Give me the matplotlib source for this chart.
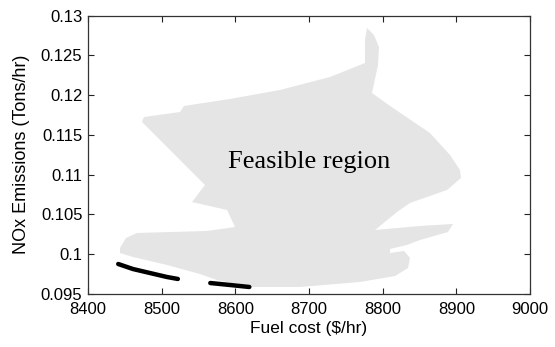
import matplotlib
matplotlib.use("Agg")
import matplotlib.pyplot as plt

# Feasible region outline
region_cost = [8473.3, 8476.0, 8524.9, 8530.3, 8592.8, 8660.6, 8728.5, 8776.0, 8776.0, 8778.7,
               8788.2, 8795.0, 8793.7, 8785.5, 8810.0, 8864.3, 8891.4, 8905.0, 8906.3, 8887.3,
               8837.1, 8819.5, 8789.6, 8850.7, 8895.5, 8888.7, 8850.7, 8833.0, 8810.0, 8810.0,
               8829.0, 8837.1, 8834.4, 8816.8, 8769.2, 8687.8, 8619.9, 8575.1, 8552.0, 8507.2,
               8461.1, 8443.4, 8443.4, 8451.6, 8466.5, 8561.5, 8599.6, 8588.7, 8541.2, 8558.8,
               8515.4]
region_nox = [0.11662, 0.11724, 0.11787, 0.11863, 0.11951, 0.12064, 0.12227, 0.12403, 0.12692, 0.12843,
              0.12755, 0.12604, 0.12378, 0.12026, 0.11863, 0.11523, 0.11247, 0.11058, 0.10958, 0.10807,
              0.10644, 0.10531, 0.10304, 0.10355, 0.10380, 0.10279, 0.10179, 0.10116, 0.10066, 0.10015,
              0.10041, 0.09953, 0.09827, 0.09726, 0.09651, 0.09588, 0.09588, 0.09676, 0.09751, 0.09865,
              0.09965, 0.10015, 0.10078, 0.10204, 0.10267, 0.10292, 0.10342, 0.10556, 0.10656, 0.10870,
              0.11272]

# Pareto front segments
front1_cost = [8441, 8461, 8484, 8507, 8522]
front1_nox = [0.09877, 0.09814, 0.09764, 0.09714, 0.09689]
front2_cost = [8566, 8593, 8619]
front2_nox = [0.09638, 0.09613, 0.09588]

xticks = [8400, 8500, 8600, 8700, 8800, 8900, 9000]
yticks = [0.095, 0.1, 0.105, 0.11, 0.115, 0.12, 0.125, 0.13]
ytick_labels = ["0.095", "0.1", "0.105", "0.11", "0.115", "0.12", "0.125", "0.13"]

plt.rcParams['font.family'] = ['Liberation Sans', 'DejaVu Sans']

fig = plt.figure(figsize=(5.55, 3.47), dpi=100)
ax = fig.add_axes([88/555, 1-294/347, (530-88)/555, (294-15.5)/347])

ax.fill(region_cost, region_nox, color='#e5e5e5', linewidth=0, zorder=1)
ax.plot(front1_cost, front1_nox, color='black', linewidth=3.2, solid_capstyle='round', zorder=3)
ax.plot(front2_cost, front2_nox, color='black', linewidth=3.2, solid_capstyle='round', zorder=3)

ax.text(8590, 0.11084, "Feasible region", family=['Liberation Serif', 'DejaVu Serif'],
        fontsize=19, ha='left', va='baseline', zorder=4)

ax.set_xlim(8400, 9000)
ax.set_ylim(0.095, 0.13)
ax.set_xticks(xticks)
ax.set_xticklabels([str(t) for t in xticks])
ax.set_yticks(yticks)
ax.set_yticklabels(ytick_labels)
ax.tick_params(direction='in', top=True, right=True, length=4, width=0.8,
               labelsize=12, colors='#222222', labelcolor='black')
ax.tick_params(axis='x', pad=6)
ax.tick_params(axis='y', pad=4)
for s in ax.spines.values():
    s.set_linewidth(0.9)
    s.set_color('#333333')

ax.set_xlabel("Fuel cost ($/hr)", fontsize=12.5, labelpad=3)
ax.set_ylabel("NOx Emissions (Tons/hr)", fontsize=13, labelpad=8)

fig.savefig("out.png", dpi=100)
